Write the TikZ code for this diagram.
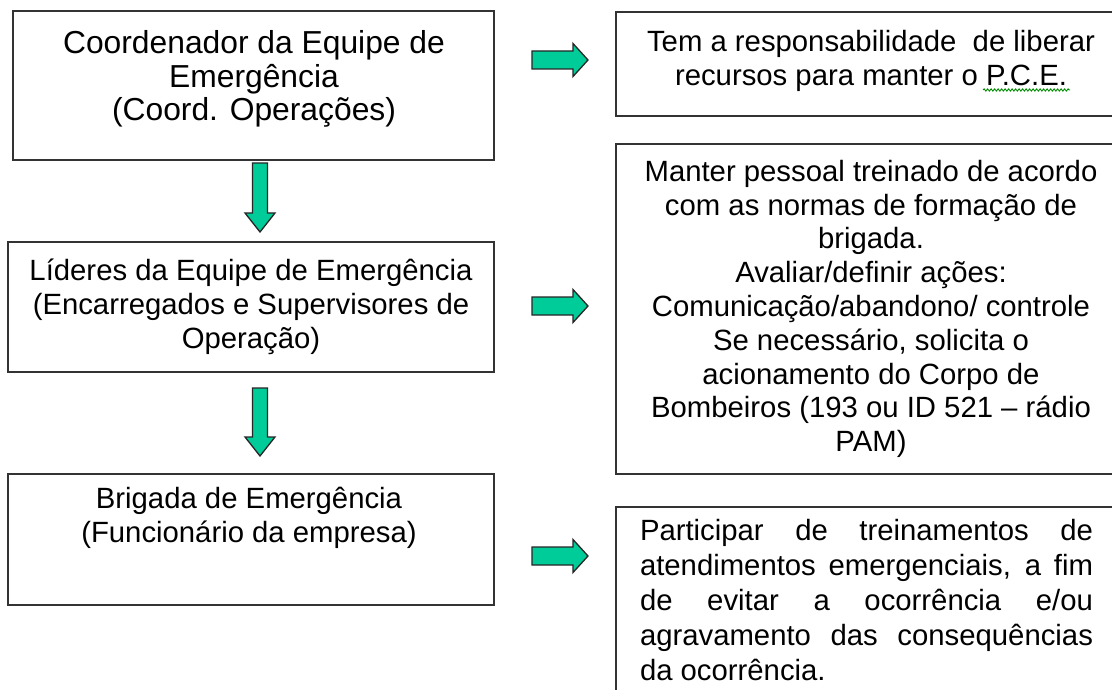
\documentclass[tikz,border=0pt]{standalone}
\usepackage{fontspec}
\setmainfont{Liberation Sans}
\usetikzlibrary{decorations.pathmorphing}
\definecolor{arrowgreen}{RGB}{0,204,153}
\definecolor{boxline}{RGB}{51,51,51}
\begin{document}
\begin{tikzpicture}[x=1pt,y=-1pt,
  boxrect/.style={draw=boxline, line width=1.8pt},
  boxtext/.style={align=center, inner sep=0pt, font=\fontsize{29.3}{33.8}\selectfont},
  blockarrow/.style={fill=arrowgreen, draw=black!85, line width=1.3pt, line join=miter}]
\useasboundingbox (0,0) rectangle (1112,690);
\clip (0,0) rectangle (1112,690);
\fill[white] (0,0) rectangle (1112,690);
% left boxes
\draw[boxrect] (13,11) rectangle (494,160);
\draw[boxrect] (8,242) rectangle (494,372);
\draw[boxrect] (8,474) rectangle (494,605);
% right boxes (cut off at the right edge)
\draw[boxrect] (616,12) rectangle (1130,116);
\draw[boxrect] (616,144) rectangle (1130,474);
\draw[boxrect] (616,507) rectangle (1130,720);
% texts
\node[boxtext, font=\fontsize{31.8}{33.2}\selectfont] (a) at (254,79) {Coordenador da Equipe de\\Emergência\\(Coord. Operações)};
\node[boxtext] (c) at (251,307) {Líderes da Equipe de Emergência\\(Encarregados e Supervisores de\\Operação)};
\node[boxtext] (e) at (249,518) {Brigada de Emergência\\(Funcionário da empresa)};
\node[boxtext] (b) at (871,61) {Tem a responsabilidade\ \ de liberar\\recursos para manter o P.C.E.};
\node[boxtext] (d) at (871,309) {Manter pessoal treinado\ de acordo\\com as normas de formação de\\brigada.\\Avaliar/definir ações:\\Comunicação/abandono/ controle\\Se necessário, solicita o\\acionamento do Corpo de\\Bombeiros (193 ou ID 521 -- rádio\\PAM)};
\node[boxtext, align=left, font=\fontsize{29.3}{35}\selectfont] (f) at (866.5,600) {%
\makebox[453pt][s]{Participar de treinamentos de}\\
\makebox[453pt][s]{atendimentos emergenciais, a fim}\\
\makebox[453pt][s]{de evitar a ocorrência e/ou}\\
\makebox[453pt][s]{agravamento das consequências}\\
da ocorrência.};
% spell-check squiggle under P.C.E.
\draw[green!55!black, line width=0.9pt, decorate, decoration={snake, amplitude=1.1pt, segment length=3.5pt}] (983,90) -- (1070,90);
% right arrows
\foreach \cy in {60, 306, 556}{
  \draw[blockarrow] (532,\cy-9) -- (573,\cy-9) -- (573,\cy-16.5) -- (588,\cy) -- (573,\cy+16.5) -- (573,\cy+9) -- (532,\cy+9) -- cycle;
}
% down arrows
\foreach \ty/\tip in {163/232, 388/456}{
  \draw[blockarrow] (252.5,\ty) -- (267.5,\ty) -- (267.5,\tip-19) -- (275,\tip-19) -- (260,\tip) -- (245,\tip-19) -- (252.5,\tip-19) -- cycle;
}
\end{tikzpicture}
\end{document}
